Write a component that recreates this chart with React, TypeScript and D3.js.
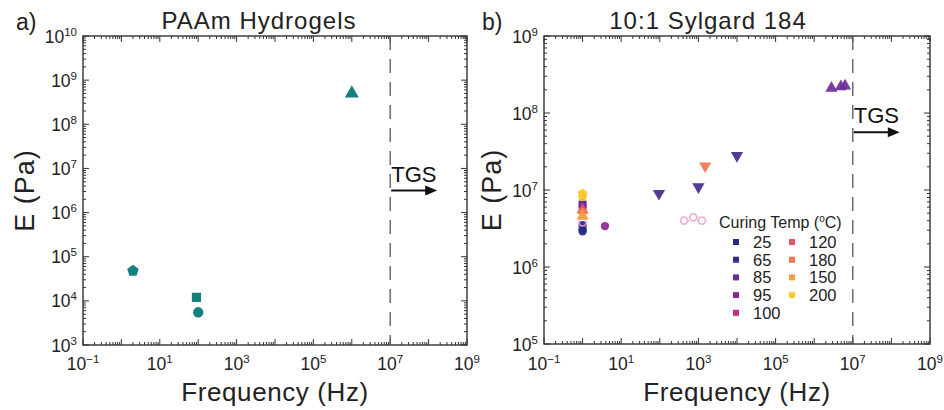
import React, { useRef, useEffect } from "react";
import * as d3 from "d3";

// panel a: PAAm hydrogels
const hydrogelFreq = [2, 90, 100, 1e6];
const hydrogelE = [4.8e4, 1.2e4, 5.5e3, 5e8];
const hydrogelShape = ["pentagon", "square", "circle", "triangle"];

// panel b: 10:1 Sylgard 184, coloured by curing temperature
const curingTemps = ["25", "65", "85", "95", "100", "120", "180", "150", "200"];
const curingColors = [
  "#262a7f", "#44288f", "#6d2c97", "#8f2692", "#c23186",
  "#e1546b", "#f17651", "#f79b3b", "#fbc72d",
];

const sylgardTemp = [
  "25", "25", "25",
  "65", "65", "65", "65",
  "85", "85", "85", "85",
  "95", "95",
  "100", "100", "100", "100",
  "120", "180", "180", "150",
  "200", "200",
];
const sylgardFreq = [
  1, 1, 1,
  1, 95, 1000, 1e4,
  1, 2.8e6, 4.9e6, 6.3e6,
  3.8, 1,
  430, 740, 1230, 1,
  1, 1500, 1, 1,
  1, 1,
];
const sylgardE = [
  3.5e6, 3.1e6, 2.9e6,
  6.8e6, 9e6, 1.1e7, 2.8e7,
  6.2e6, 2.1e8, 2.2e8, 2.25e8,
  3.4e6, 5.9e6,
  4e6, 4.4e6, 4e6, 3.8e6,
  5.5e6, 2.05e7, 5.2e6, 4.6e6,
  9e6, 8.1e6,
];
const sylgardShape = [
  "circle", "circle", "circle",
  "circle", "triDown", "triDown", "triDown",
  "circle", "triangle", "triangle", "triangle",
  "circle", "circle",
  "hexOpen", "hexOpen", "hexOpen", "hexOpen",
  "triangle", "triDown", "circle", "triangle",
  "pentagon", "pentagon",
];

const xExponents = [-1, 9];
const tgsFreq = 1e7;

const FONT = "'Liberation Sans', Arial, Helvetica, sans-serif";

function polygon(n: number, rot: number) {
  return {
    draw(ctx: any, size: number) {
      const r = Math.sqrt(size) * 0.62;
      for (let i = 0; i < n; i++) {
        const a = rot + (i * 2 * Math.PI) / n;
        if (i === 0) ctx.moveTo(r * Math.cos(a), r * Math.sin(a));
        else ctx.lineTo(r * Math.cos(a), r * Math.sin(a));
      }
      ctx.closePath();
    },
  };
}

const shapeTypes: any = {
  circle: d3.symbolCircle,
  square: d3.symbolSquare,
  triangle: d3.symbolTriangle,
  triDown: d3.symbolTriangle,
  pentagon: polygon(5, -Math.PI / 2),
  hexOpen: polygon(6, 0),
};

function drawPanel(svg: any, p: any) {
  const x = d3.scaleLog().domain([10 ** xExponents[0], 10 ** xExponents[1]]).range([p.left, p.right]);
  const y = d3.scaleLog().domain([10 ** p.yExp[0], 10 ** p.yExp[1]]).range([p.bottom, p.top]);
  const g = svg.append("g");
  const axisColor = "#333";

  // ticks on all four sides, pointing inward
  const tick = (x1: number, y1: number, x2: number, y2: number) =>
    g.append("line").attr("x1", x1).attr("y1", y1).attr("x2", x2).attr("y2", y2)
      .attr("stroke", axisColor).attr("stroke-width", 1);

  for (let e = xExponents[0]; e <= xExponents[1]; e++) {
    const px = x(10 ** e);
    tick(px, p.bottom, px, p.bottom - 6);
    tick(px, p.top, px, p.top + 6);
    if (e < xExponents[1]) {
      for (let k = 2; k <= 9; k++) {
        const mx = x(k * 10 ** e);
        tick(mx, p.bottom, mx, p.bottom - 3);
        tick(mx, p.top, mx, p.top + 3);
      }
    }
    if ((e - xExponents[0]) % 2 === 0) {
      const t = g.append("text").attr("x", px).attr("y", 370)
        .attr("text-anchor", "middle").attr("font-size", 17.5).attr("fill", "#222");
      t.append("tspan").text("10");
      t.append("tspan").attr("dy", -7).attr("font-size", 11.5).text(e < 0 ? "\u2212" + -e : e);
    }
  }

  for (let e = p.yExp[0]; e <= p.yExp[1]; e++) {
    const py = y(10 ** e);
    tick(p.left, py, p.left + 6, py);
    tick(p.right, py, p.right - 6, py);
    if (e < p.yExp[1]) {
      for (let k = 2; k <= 9; k++) {
        const my = y(k * 10 ** e);
        tick(p.left, my, p.left + 3, my);
        tick(p.right, my, p.right - 3, my);
      }
    }
    const t = g.append("text").attr("x", p.left - 6).attr("y", py + 6.5)
      .attr("text-anchor", "end").attr("font-size", 17.5).attr("fill", "#222");
    t.append("tspan").text("10");
    t.append("tspan").attr("dy", -7).attr("font-size", 11.5).text(e);
  }

  g.append("rect")
    .attr("x", p.left).attr("y", p.top)
    .attr("width", p.right - p.left).attr("height", p.bottom - p.top)
    .attr("fill", "none").attr("stroke", axisColor).attr("stroke-width", 1.4);

  // TGS boundary
  g.append("line")
    .attr("x1", x(tgsFreq)).attr("x2", x(tgsFreq))
    .attr("y1", p.top).attr("y2", p.bottom)
    .attr("stroke", "#555").attr("stroke-width", 1.3).attr("stroke-dasharray", "14,9");

  const ax = x(tgsFreq) + 1;
  const ay = y(p.arrowE);
  g.append("text").attr("x", ax).attr("y", ay - 9)
    .attr("font-size", 22).attr("fill", "#111").text("TGS");
  g.append("line").attr("x1", ax).attr("x2", ax + 36).attr("y1", ay).attr("y2", ay)
    .attr("stroke", "#111").attr("stroke-width", 2);
  g.append("path")
    .attr("d", `M${ax + 46},${ay} L${ax + 34},${ay - 5} L${ax + 34},${ay + 5} Z`)
    .attr("fill", "#111");

  // titles and labels
  g.append("text").attr("x", p.titleX).attr("y", 29).attr("text-anchor", "middle")
    .attr("font-size", 24).attr("letter-spacing", 1).attr("fill", "#222").text(p.title);
  g.append("text").attr("x", p.letterX).attr("y", 30)
    .attr("font-size", 23).attr("fill", "#222").text(p.letter);
  g.append("text").attr("x", (p.left + p.right) / 2).attr("y", 401).attr("text-anchor", "middle")
    .attr("font-size", 26).attr("letter-spacing", 0.6).attr("fill", "#222").text("Frequency (Hz)");
  g.append("text")
    .attr("transform", `translate(${p.yLabelX},${(p.top + p.bottom) / 2}) rotate(-90)`)
    .attr("text-anchor", "middle").attr("font-size", 27).attr("letter-spacing", 1)
    .attr("fill", "#222").text("E (Pa)");

  return { g, x, y };
}

export default function App() {
  const ref = useRef<SVGSVGElement>(null);

  useEffect(() => {
    const svg = d3.select(ref.current);
    svg.selectAll("*").remove();

    // panel a
    const a = drawPanel(svg, {
      left: 83, right: 467, top: 36, bottom: 345, yExp: [3, 10],
      title: "PAAm Hydrogels", titleX: 259, letter: "a)", letterX: 16,
      yLabelX: 34, arrowE: 10 ** 6.5,
    });
    a.g.selectAll("path.pt")
      .data(hydrogelFreq.map((f, i) => ({ f, e: hydrogelE[i], s: hydrogelShape[i] })))
      .join("path")
      .attr("class", "pt")
      .attr("d", (d: any) => d3.symbol(shapeTypes[d.s], d.s === "triangle" ? 85 : d.s === "pentagon" ? 95 : 85)())
      .attr("transform", (d: any) => `translate(${a.x(d.f)},${a.y(d.e)})`)
      .attr("fill", "#11807f");

    // panel b
    const b = drawPanel(svg, {
      left: 544, right: 930, top: 36, bottom: 344, yExp: [5, 9],
      title: "10:1 Sylgard 184", titleX: 708, letter: "b)", letterX: 482,
      yLabelX: 501, arrowE: 10 ** 7.75,
    });
    const color = d3.scaleOrdinal<string, string>().domain(curingTemps).range(curingColors);
    b.g.selectAll("path.pt")
      .data(sylgardFreq.map((f, i) => ({ f, e: sylgardE[i], s: sylgardShape[i], t: sylgardTemp[i] })))
      .join("path")
      .attr("class", "pt")
      .attr("d", (d: any) => d3.symbol(shapeTypes[d.s], d.s === "hexOpen" ? 40 : d.s === "circle" ? 55 : 65)())
      .attr("transform", (d: any) =>
        `translate(${b.x(d.f)},${b.y(d.e)})${d.s === "triDown" ? " rotate(180)" : ""}`)
      .attr("fill", (d: any) => (d.s === "hexOpen" ? "none" : color(d.t)))
      .attr("stroke", (d: any) => (d.s === "hexOpen" ? "#e9a3cd" : "none"))
      .attr("stroke-width", 1.5)
      .attr("opacity", 0.92);

    // legend
    const leg = b.g.append("g").attr("transform", "translate(719,228)");
    const lt = leg.append("text").attr("font-size", 16).attr("fill", "#222");
    lt.append("tspan").text("Curing Temp (");
    lt.append("tspan").attr("font-size", 10).attr("dy", -6).text("o");
    lt.append("tspan").attr("dy", 6).text("C)");
    curingTemps.forEach((t, i) => {
      const col = i < 5 ? 0 : 1;
      const row = i < 5 ? i : i - 5;
      const item = leg.append("g").attr("transform", `translate(${col * 56},${14 + row * 17.7})`);
      item.append("rect").attr("x", 14).attr("y", -3).attr("width", 6).attr("height", 6)
        .attr("fill", curingColors[i]);
      item.append("text").attr("x", 34).attr("y", 6).attr("font-size", 16.5).attr("fill", "#222").text(t);
    });
  }, []);

  return (
    <svg
      ref={ref}
      width={944}
      height={410}
      style={{ position: "absolute", left: 0, top: 0, background: "#fff", fontFamily: FONT }}
    ></svg>
  );
}
